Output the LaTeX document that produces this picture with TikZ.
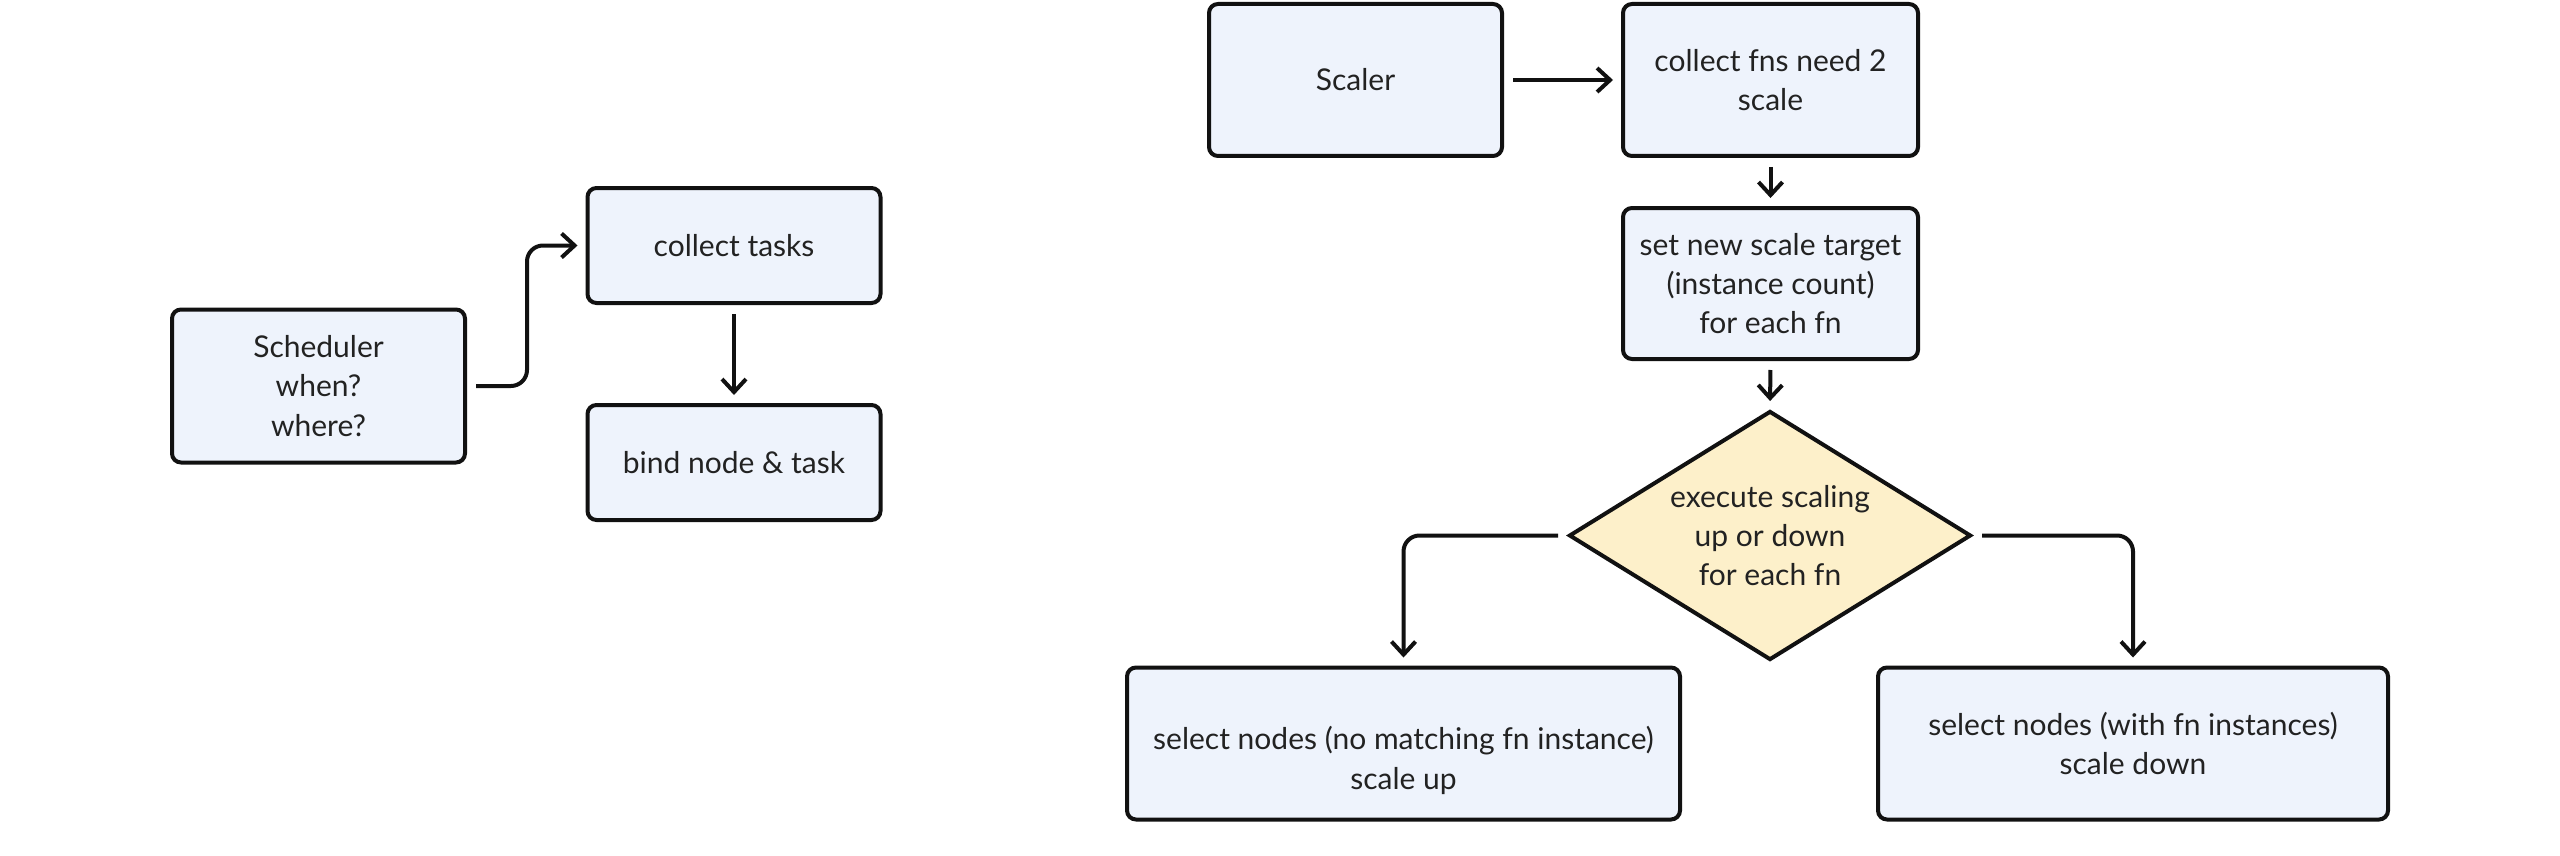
\documentclass[tikz,border=0pt]{standalone}
\usepackage{fontspec}
\setmainfont{Lato}
\usetikzlibrary{shapes.geometric,arrows.meta}
\definecolor{boxfill}{HTML}{EEF3FC}
\definecolor{diafill}{HTML}{FDF0CA}
\definecolor{ink}{HTML}{111111}
\definecolor{txt}{HTML}{222222}
\begin{document}
\begin{tikzpicture}[x=0.5pt,y=-0.5pt,
  font=\fontsize{15}{19.6}\selectfont,
  box/.style={draw=ink, line width=2pt, fill=boxfill, rounded corners=4.5pt,
    align=center, text=txt, inner sep=0pt},
  dia/.style={draw=ink, line width=2pt, fill=diafill, diamond, aspect=1.6,
    align=center, text=txt, inner sep=0pt},
  conn/.style={draw=ink, line width=2pt, rounded corners=8pt,
    -{Straight Barb[length=6.5pt,width=12pt,line width=2pt]},
    shorten >=4pt, shorten <=4.5pt}]
\useasboundingbox (0,0) rectangle (2560,856);
\fill[white] (0,0) rectangle (2560,856);
\node[box, minimum width=146.5pt, minimum height=76.5pt] (sched) at (318.5,386) {Scheduler\\when?\\where?};
\node[box, minimum width=146.5pt, minimum height=57.5pt] (ctask) at (734,245.5) {collect tasks};
\node[box, minimum width=146.5pt, minimum height=57.5pt] (bind) at (734,462.5) {bind node \& task};
\node[box, minimum width=146.5pt, minimum height=76pt] (scaler) at (1355.5,80) {Scaler};
\node[box, minimum width=147.5pt, minimum height=76pt] (cfns) at (1770.5,80) {collect fns need 2\\scale};
\node[box, minimum width=147.5pt, minimum height=75.5pt] (snew) at (1770.5,283.5) {set new scale target\\(instance count)\\for each fn};
\node[dia, minimum width=201pt, minimum height=124.5pt] (exec) at (1770,535.5) {execute scaling\\up or down\\for each fn};
\node[box, minimum width=276.5pt, minimum height=76pt] (sl) at (1403.5,743.5) {\mbox{}\\[9pt]select nodes (no matching fn instance)\\scale up};
\node[box, minimum width=255pt, minimum height=76pt] (sr) at (2133,743.5) {select nodes (with fn instances)\\scale down};
\draw[conn] (sched.east) -- ++(60,0) |- (ctask.west);
\draw[conn] (ctask.south) -- (bind.north);
\draw[conn] (scaler.east) -- (cfns.west);
\draw[conn] (cfns.south) -- (snew.north);
\draw[conn] (snew.south) -- (exec.north);
\draw[conn] (exec.west) -| (sl.north);
\draw[conn] (exec.east) -| (sr.north);
\end{tikzpicture}
\end{document}
